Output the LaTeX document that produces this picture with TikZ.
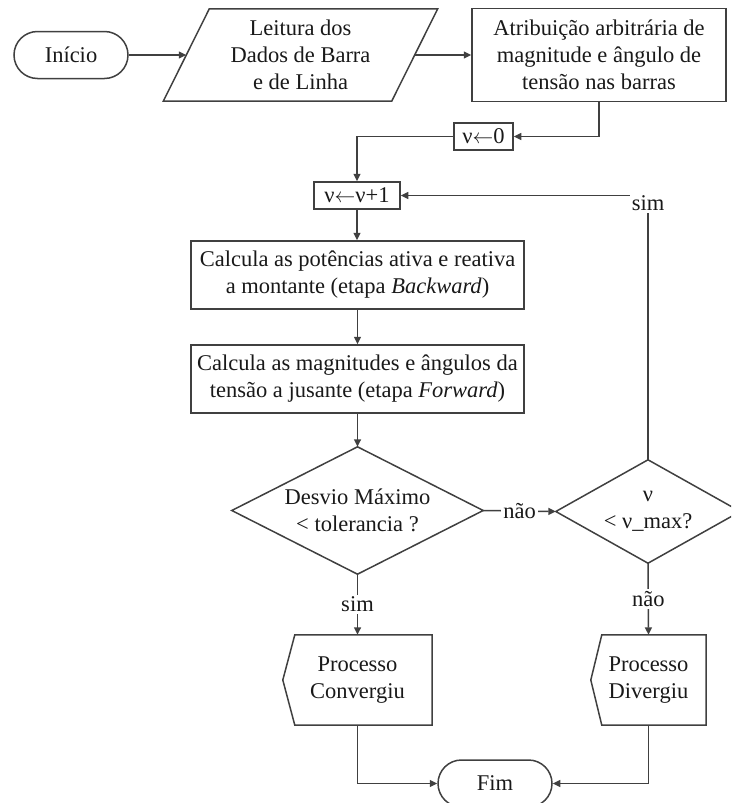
\documentclass[tikz,border=0pt]{standalone}
\usepackage{fontspec}
\setmainfont{Liberation Serif}
\usetikzlibrary{arrows.meta}
\newcommand{\assignarrow}{\ensuremath{\leftarrow}}

\begin{document}
\begin{tikzpicture}[x=1pt,y=-1pt,
  every node/.style={font=\fontsize{22.5}{27}\selectfont, text=black!90, inner sep=0pt, align=center},
  line/.style={draw=black!75, line width=1.5pt},
  arr/.style={line, -{Triangle[length=7.5pt,width=7pt]}},
  box/.style={rectangle, draw=black!75, line width=1.5pt},
  term/.style={box, rounded corners=23.5pt, minimum width=114pt, minimum height=47pt},
  frame/.style={rectangle},
  lbl/.style={fill=white, inner sep=2pt}]

\useasboundingbox (0,0) rectangle (731,803);
\clip (0,0) rectangle (731,803);

% start and input
\node[term] (inicio) at (71,55) {Início};
\node[frame, minimum width=228pt, minimum height=92pt] (leitura) at (300.5,55) {Leitura dos\\Dados de Barra\\e de Linha};
\draw[line] ([xshift=23pt]leitura.north west) -- ([xshift=23pt]leitura.north east)
  -- ([xshift=-23pt]leitura.south east) -- ([xshift=-23pt]leitura.south west) -- cycle;
\node[box, minimum width=254pt, minimum height=93pt] (atrib) at (599,55) {Atribuição arbitrária de\\magnitude e ângulo de\\tensão nas barras};

% counter
\node[box, minimum width=59pt, minimum height=27pt] (nu0) at (483.5,136.5) {ν\assignarrow0};
\node[box, minimum width=86pt, minimum height=27pt] (nu1) at (357,195.5) {ν\assignarrow ν+1};

% backward / forward sweeps
\node[box, minimum width=333pt, minimum height=68pt] (back) at (357.5,275) {Calcula as potências ativa e reativa\\a montante (etapa \textit{Backward})};
\node[box, minimum width=333pt, minimum height=68pt] (fwd) at (357.5,379) {Calcula as magnitudes e ângulos da\\tensão a jusante (etapa \textit{Forward})};

% decisions
\node[frame, minimum width=251pt, minimum height=127pt] (desvio) at (357.5,510.5) {Desvio Máximo\\< tolerancia ?};
\draw[line] (desvio.north) -- (desvio.east) -- (desvio.south) -- (desvio.west) -- cycle;
\node[frame, minimum width=184pt, minimum height=103pt] (vmax) at (648,511.5) {ν\\< ν\_max?};
\draw[line] (vmax.north) -- (vmax.east) -- (vmax.south) -- (vmax.west) -- cycle;

% outputs
\node[frame, minimum width=149pt, minimum height=90pt] (conv) at (357.5,680) {Processo\\Convergiu};
\draw[line] ([xshift=12pt]conv.north west) -- (conv.north east) -- (conv.south east)
  -- ([xshift=12pt]conv.south west) -- (conv.west) -- cycle;
\node[frame, minimum width=115pt, minimum height=90pt] (div) at (648.5,680) {Processo\\Divergiu};
\draw[line] ([xshift=11pt]div.north west) -- (div.north east) -- (div.south east)
  -- ([xshift=11pt]div.south west) -- (div.west) -- cycle;
\node[term] (fim) at (495,783.5) {Fim};

% connectors
\draw[arr] (inicio.east) -- (leitura.west);
\draw[arr] (leitura.east) -- (atrib.west);
\draw[arr] (atrib.south) |- (nu0.east);
\draw[arr] (nu0.west) -| (nu1.north);
\draw[arr] (nu1.south) -- (nu1.south |- back.north);
\draw[arr] (back.south) -- (fwd.north);
\draw[arr] (fwd.south) -- (desvio.north);
\draw[arr] (desvio.east) -- node[lbl]{não} (vmax.west);
\draw[arr] (vmax.north) |- node[lbl, yshift=-7.5pt]{sim} (nu1.east);
\draw[arr] (desvio.south) -- node[lbl]{sim} (conv.north);
\draw[arr] (vmax.south) -- node[lbl]{não} (div.north);
\draw[arr] (conv.south) |- (fim.west);
\draw[arr] (div.south) |- (fim.east);
\end{tikzpicture}
\end{document}
